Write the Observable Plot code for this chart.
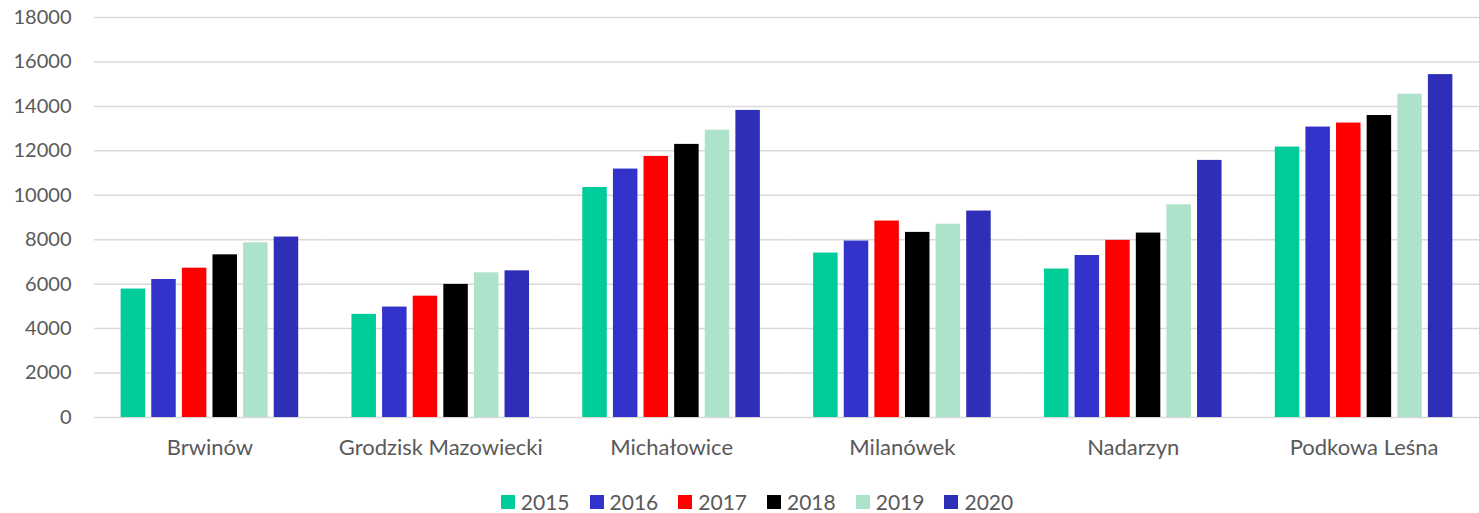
<!DOCTYPE html>
<html><head><meta charset="utf-8">
<script src="https://cdn.jsdelivr.net/npm/d3@7"></script>
<script src="https://cdn.jsdelivr.net/npm/@observablehq/plot@0.6"></script>
<style>
body{margin:0;background:#fff;font-family:Lato,"Open Sans",sans-serif;overflow:hidden;}
#legend{display:flex;justify-content:center;margin-top:10px;height:24px;line-height:24px;align-items:center;padding-left:35px;}
.item{display:flex;align-items:center;margin:0 10px;font-size:21px;color:#595959;}
.sw{width:14px;height:14px;margin-right:6px;}
</style>
</head><body>
<div id="chart"></div>
<div id="legend"></div>
<script>
const gminy = ["Brwinów","Grodzisk Mazowiecki","Michałowice","Milanówek","Nadarzyn","Podkowa Leśna"];
const years = ["2015","2016","2017","2018","2019","2020"];
const colors = ["#00CC99","#3333CC","#FF0000","#000000","#ADE3CB","#2E2EB8"];
const yTicks = [0,2000,4000,6000,8000,10000,12000,14000,16000,18000];
const v2015 = [5780,4640,10350,7400,6680,12170];
const v2016 = [6210,4970,11180,7940,7290,13070];
const v2017 = [6720,5460,11750,8840,7970,13250];
const v2018 = [7320,5990,12290,8330,8300,13590];
const v2019 = [7860,6510,12930,8700,9570,14550];
const v2020 = [8120,6600,13820,9290,11570,15430];
const series = [v2015,v2016,v2017,v2018,v2019,v2020];

const rows = [];
gminy.forEach((g,i)=>years.forEach((y,j)=>rows.push({gmina:g, year:y, value:series[j][i]})));

const chart = Plot.plot({
  width:1479, height:480,
  marginLeft:94, marginRight:0, marginTop:17, marginBottom:63,
  style:{fontFamily:"Lato, 'Open Sans', sans-serif", fontSize:"20px", color:"#595959", background:"#fff"},
  fx:{domain:gminy, padding:0, round:false, label:null, axis:null},
  x:{domain:years, paddingInner:0.2, paddingOuter:0.87, round:false, axis:null},
  y:{domain:[0,18000], ticks:yTicks, tickSize:0, tickPadding:23, label:null, tickFormat:d=>String(d)},
  color:{domain:years, range:colors},
  marks:[
    Plot.ruleY(yTicks, {stroke:"#d9d9d9", strokeWidth:1.5}),
    Plot.barY(rows, {fx:"gmina", x:"year", y:"value", fill:"year"}),
    Plot.axisFx({anchor:"bottom", tickSize:0, tickPadding:22, label:null, fontSize:22})
  ]
});
document.getElementById("chart").appendChild(chart);

const leg = document.getElementById("legend");
years.forEach((y,i)=>{
  const it = document.createElement("div"); it.className="item";
  const sw = document.createElement("div"); sw.className="sw"; sw.style.background=colors[i];
  const t = document.createElement("span"); t.textContent=y;
  it.appendChild(sw); it.appendChild(t); leg.appendChild(it);
});
</script>
</body></html>
